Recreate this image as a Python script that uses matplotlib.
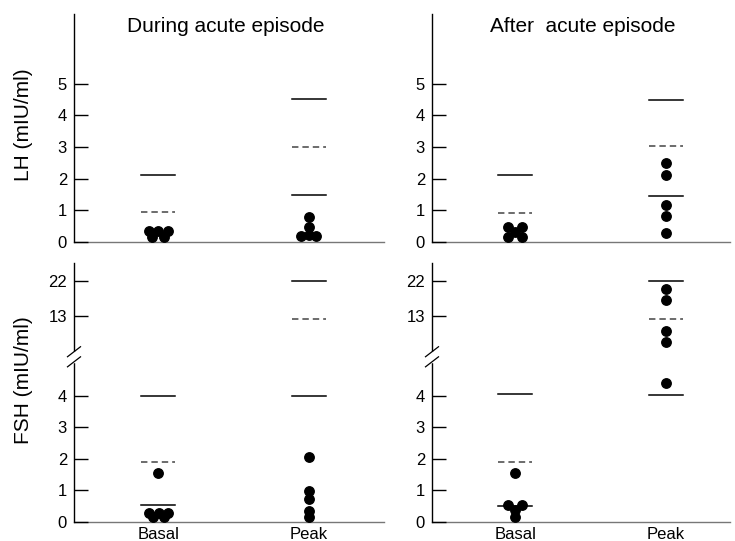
import numpy as np
import matplotlib.pyplot as plt

plt.rcParams['font.family'] = ['Liberation Sans', 'DejaVu Sans']

groups = ['Basal', 'Peak']
titles = ['During acute episode', 'After  acute episode']

# LH (mIU/ml): dots per group, range lines (solid, dashed, solid)
lh_during_basal = [0.35, 0.15, 0.35, 0.15, 0.35]
lh_during_peak = [0.78, 0.48, 0.22, 0.18, 0.18]
lh_after_basal = [0.48, 0.48, 0.31, 0.16, 0.16]
lh_after_peak = [2.49, 2.12, 1.17, 0.82, 0.28]
lh_basal_lines = [2.13, 0.96]
lh_peak_lines = [4.52, 3.0, 1.47]
lh_after_basal_lines = [2.11, 0.93]
lh_after_peak_lines = [4.5, 3.02, 1.45]

# FSH (mIU/ml)
fsh_during_basal = [1.56, 0.28, 0.28, 0.28, 0.14, 0.14]
fsh_during_peak = [2.04, 0.97, 0.71, 0.35, 0.15]
fsh_after_basal = [1.56, 0.52, 0.52, 0.37, 0.15]
fsh_after_peak = [19.8, 17.1, 10.5, 8.7, 4.41]
fsh_basal_lines = [4.0, 1.89, 0.52]
fsh_peak_lines = [22.0, 12.5, 4.0]
fsh_after_basal_lines = [4.05, 1.88, 0.51]
fsh_after_peak_lines = [22.0, 12.5, 4.03]

lh_ticks = [0, 1, 2, 3, 4, 5]
fsh_ticks = [0, 1, 2, 3, 4, 13, 22]

# beeswarm offsets (x, in category units)
off_lh_during_basal = [-0.065, -0.043, 0.0, 0.036, 0.065]
off_lh_during_peak = [0.0, 0.0, 0.0, -0.05, 0.05]
off_lh_after_basal = [-0.047, 0.047, 0.0, -0.047, 0.047]
off_fsh_during_basal = [0.0, -0.06, 0.003, 0.065, -0.033, 0.04]
off_fsh_after_basal = [0.0, -0.047, 0.047, 0.0, 0.0]
zero5 = [0, 0, 0, 0, 0]

# broken FSH axis: linear below 5, compressed above
fsh_vals = [-10, 5, 13, 22, 60]
fsh_pos = [-10, 5, 6.53, 7.65, 12.38]


def fwd(y):
    return np.interp(y, fsh_vals, fsh_pos)


def inv(p):
    return np.interp(p, fsh_pos, fsh_vals)


W, H = 735, 541
fig = plt.figure(figsize=(7.35, 5.41), dpi=100)

col_px = [(74, 384), (432, 730)]
row_px = [(14, 242), (263, 521.7)]
xlims = [(0.439, 2.501), (0.446, 2.426)]

panels = [
    [(lh_during_basal, off_lh_during_basal, lh_basal_lines,
      lh_during_peak, off_lh_during_peak, lh_peak_lines),
     (lh_after_basal, off_lh_after_basal, lh_after_basal_lines,
      lh_after_peak, zero5, lh_after_peak_lines)],
    [(fsh_during_basal, off_fsh_during_basal, fsh_basal_lines,
      fsh_during_peak, zero5, fsh_peak_lines),
     (fsh_after_basal, off_fsh_after_basal, fsh_after_basal_lines,
      fsh_after_peak, zero5, fsh_after_peak_lines)],
]

dash_style = (0, (4.2, 2.6))
half = 0.113

for r in range(2):
    for c in range(2):
        x0, x1 = col_px[c]
        y0, y1 = row_px[r]
        ax = fig.add_axes([x0 / W, 1 - y1 / H, (x1 - x0) / W, (y1 - y0) / H])
        bvals, boff, blines, pvals, poff, plines = panels[r][c]

        if r == 1:
            ax.set_yscale('function', functions=(fwd, inv))
            ax.set_ylim(0, 26.5)
            ax.set_yticks(fsh_ticks)
        else:
            ax.set_ylim(0, 7.2)
            ax.set_yticks(lh_ticks)
        ax.set_yticklabels([str(t) for t in ax.get_yticks().astype(int)])
        ax.set_xlim(*xlims[c])

        for xc, vals, offs, lines in [(1, bvals, boff, blines), (2, pvals, poff, plines)]:
            styles = ['-', dash_style, '-'] if len(lines) == 3 else ['-', dash_style]
            for v, ls in zip(lines, styles):
                col = 'black' if ls == '-' else '#444444'
                ax.plot([xc - half, xc + half], [v, v], color=col, lw=1.1, ls=ls)
            ax.plot(np.array(offs) + xc, vals, 'o', color='black', ms=6.8,
                    clip_on=False, zorder=5)

        for s in ['top', 'right']:
            ax.spines[s].set_visible(False)
        ax.spines['left'].set_color('black')
        ax.spines['left'].set_linewidth(1.0)
        ax.spines['bottom'].set_color('#777777')
        ax.spines['bottom'].set_linewidth(1.0)
        ax.spines['bottom'].set_zorder(1)
        ax.tick_params(axis='y', direction='in', length=10, width=1.0,
                       pad=5, labelsize=12, colors='black')
        ax.tick_params(axis='x', length=0, pad=4, labelsize=12)
        if r == 1:
            ax.set_xticks([1, 2])
            ax.set_xticklabels(groups)
        else:
            ax.set_xticks([])
            ax.text(0.49 if c == 0 else 0.507, 0.943, titles[c], transform=ax.transAxes,
                    ha='center', va='center', fontsize=15)

        if c == 0:
            ax.set_ylabel(['LH (mIU/ml)', 'FSH (mIU/ml)'][r], fontsize=15)
            ax.yaxis.set_label_coords(-0.133, [0.515, 0.548][r])

        if r == 1:
            # break marks on the y axis
            dx = 6.5 / (x1 - x0)
            dy = 5.0 / (y1 - y0)
            ax.plot([0, 0], [0.622, 0.653], transform=ax.transAxes, color='white',
                    lw=2.5, clip_on=False, zorder=6)
            for yc in [0.657, 0.618]:
                ax.plot([-dx, dx], [yc - dy, yc + dy], transform=ax.transAxes,
                        color='black', lw=0.9, clip_on=False, zorder=7)

fig.savefig('out.png', dpi=100)
